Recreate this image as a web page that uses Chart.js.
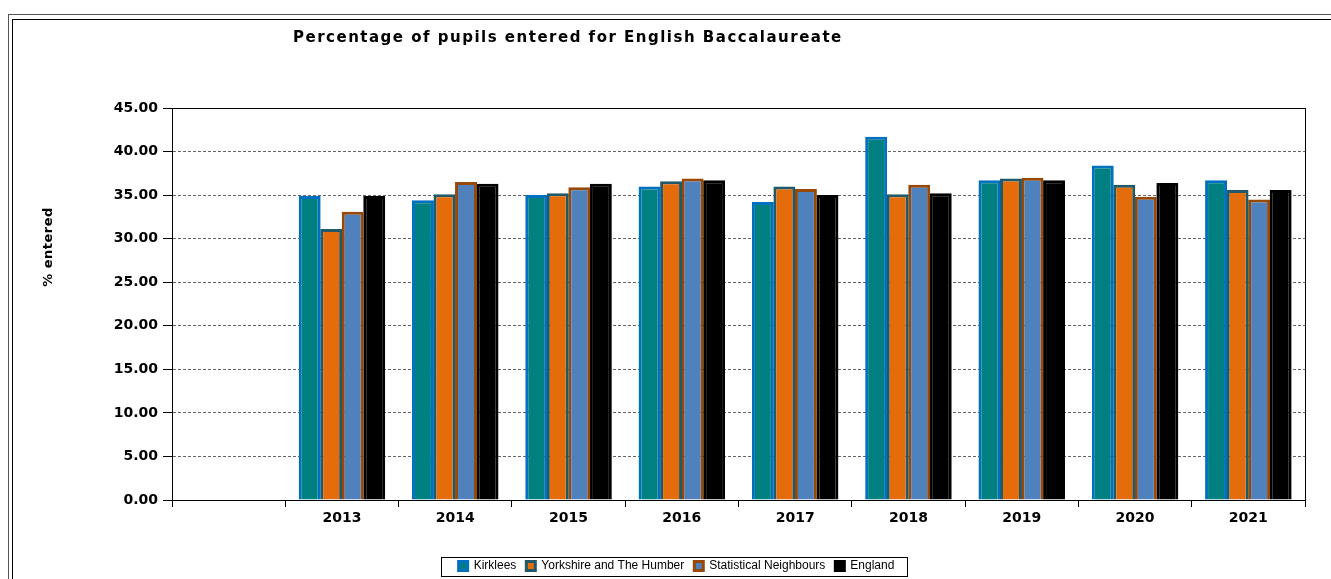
<!DOCTYPE html>
<html lang="en">
  <head>
    <meta charset="UTF-8" />
    <title>Percentage of pupils entered for English Baccalaureate</title>
    <style>
      body { margin: 0; background: #fff; overflow: hidden; }
      #wrap { position: relative; width: 1331px; height: 579px; overflow: hidden; }
      #chart { position: absolute; left: 0; top: 0; }
      .frame { position: absolute; pointer-events: none; }
      #outer { left: 8px; top: 14px; width: 1400px; height: 700px; border: 1px solid #555; }
      #inner { left: 12px; top: 19px; width: 1400px; height: 700px; border: 1px solid #000; }
      #title {
        position: absolute; left: 293px; top: 28px; line-height: 17px;
        font: bold 15px "DejaVu Sans", Verdana, sans-serif; letter-spacing: 1.5px;
        color: #000; white-space: nowrap;
      }
      #ytitle {
        position: absolute; left: 47px; top: 247px; white-space: nowrap;
        font: bold 13px "DejaVu Sans", Verdana, sans-serif; letter-spacing: 0.5px;
        transform: translate(-50%, -50%) rotate(-90deg);
      }
    </style>
  </head>
  <body>
    <div id="wrap">
      <canvas id="chart" width="1331" height="582"></canvas>
      <div class="frame" id="outer"></div>
      <div class="frame" id="inner"></div>
      <div id="title">Percentage of pupils entered for English Baccalaureate</div>
      <div id="ytitle">% entered</div>
    </div>

    <script src="https://cdn.jsdelivr.net/npm/chart.js"></script>
    <script>
      // first slot is empty in the original chart
      const years = ["", "2013", "2014", "2015", "2016", "2017", "2018", "2019", "2020", "2021"];
      const kirklees = [null, 34.9, 34.4, 35.0, 36.0, 34.2, 41.7, 36.7, 38.4, 36.7];
      const yorkshire = [null, 31.1, 35.1, 35.2, 36.6, 36.0, 35.1, 36.9, 36.2, 35.6];
      const statNeighbours = [null, 33.1, 36.5, 35.9, 36.9, 35.7, 36.2, 37.0, 34.8, 34.5];
      const england = [null, 34.9, 36.3, 36.3, 36.7, 35.0, 35.2, 36.7, 36.4, 35.6];

      // plot frame + box round the legend
      const frames = {
        id: "frames",
        afterDraw(chart) {
          const ctx = chart.ctx;
          const a = chart.chartArea;
          ctx.save();
          ctx.strokeStyle = "#000";
          ctx.lineWidth = 1;
          ctx.strokeRect(Math.round(a.left) + 0.5, Math.round(a.top) + 0.5,
            Math.round(a.right - a.left), Math.round(a.bottom - a.top));

          const boxes = chart.legend.legendHitBoxes;
          if (boxes && boxes.length) {
            const first = boxes[0];
            const last = boxes[boxes.length - 1];
            const x1 = Math.round(first.left) - 18;
            const x2 = Math.round(last.left + last.width) + 13;
            const y1 = Math.round(first.top) - 3;
            ctx.strokeRect(x1 + 0.5, y1 + 0.5, x2 - x1, 19);
          }
          ctx.restore();
        },
      };

      const ctx = document.getElementById("chart").getContext("2d");
      const chart = new Chart(ctx, {
        type: "bar",
        data: {
          labels: years,
          datasets: [
            { label: "Kirklees", data: kirklees, backgroundColor: "#008080", borderColor: "#0070C0", borderWidth: 3 },
            { label: "Yorkshire and The Humber", data: yorkshire, backgroundColor: "#E46C0A", borderColor: "#215968" },
            { label: "Statistical Neighbours", data: statNeighbours, backgroundColor: "#4F81BD", borderColor: "#984807" },
            { label: "England", data: england, backgroundColor: "#000000", borderColor: "#000000" },
          ],
        },
        options: {
          responsive: false,
          animation: false,
          devicePixelRatio: 1,
          layout: { padding: { left: 48, right: 26, top: 108, bottom: 0 } },
          datasets: {
            bar: { borderWidth: 3, categoryPercentage: 0.76, barPercentage: 1.02, inflateAmount: 0 },
          },
          plugins: {
            title: { display: false },
            tooltip: { enabled: false },
            legend: {
              position: "bottom",
              labels: {
                boxWidth: 9,
                boxHeight: 9,
                padding: 10,
                color: "#000",
                font: { family: "'Liberation Sans', Arial, sans-serif", size: 12 },
              },
            },
          },
          scales: {
            x: {
              afterFit: (s) => { s.height = 50; },
              grid: { drawOnChartArea: false, tickLength: 7, color: "#000" },
              border: { color: "#000" },
              ticks: {
                color: "#000",
                padding: 3,
                maxRotation: 0,
                font: { family: "'DejaVu Sans', Verdana, sans-serif", size: 14, weight: "bold" },
              },
            },
            y: {
              min: 0,
              max: 45,
              afterFit: (s) => { s.width = 124; },
              grid: { color: "#666", tickLength: 9, tickColor: "#000", tickBorderDash: [] },
              border: { color: "#000", dash: [3, 2] },
              ticks: {
                stepSize: 5,
                color: "#000",
                padding: 5,
                callback: (v) => v.toFixed(2),
                font: { family: "'DejaVu Sans', Verdana, sans-serif", size: 14, weight: "bold" },
              },
            },
          },
        },
        plugins: [frames],
      });
    </script>
  </body>
</html>
